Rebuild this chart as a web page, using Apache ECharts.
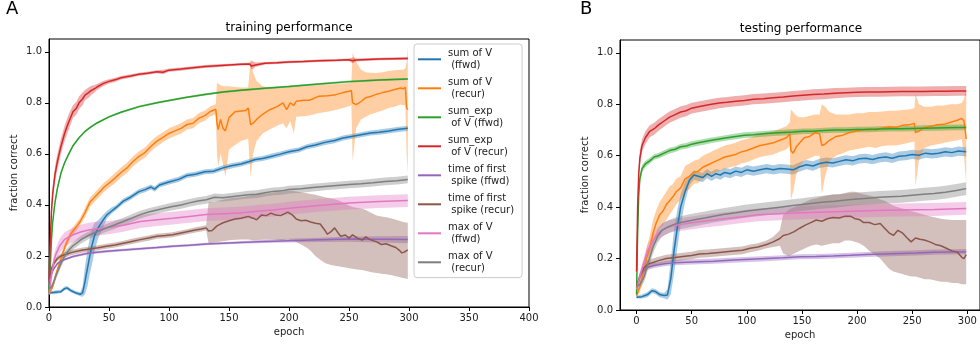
<!DOCTYPE html>
<html>
<head>
<meta charset="utf-8">
<script src="https://cdn.jsdelivr.net/npm/echarts@6/dist/echarts.min.js"></script>
<style>
  html, body { margin: 0; padding: 0; background: #fff; }
  #chart { width: 980px; height: 349px; }
</style>
</head>
<body>
<div id="chart"></div>
<script>
// legend labels / colours (matplotlib tab10)
const runNames = ['sum of V\n (ffwd)', 'sum of V\n (recur)', 'sum_exp\n of V (ffwd)', 'sum_exp\n of V (recur)',
  'time of first\n spike (ffwd)', 'time of first\n spike (recur)', 'max of V\n (ffwd)', 'max of V\n (recur)'];
const runColors = ['#1f77b4', '#ff7f0e', '#2ca02c', '#d62728', '#9467bd', '#8c564b', '#e377c2', '#7f7f7f'];

const trainEpochTicks = [0, 50, 100, 150, 200, 250, 300, 350, 400];
const testEpochTicks = [0, 50, 100, 150, 200, 250, 300];
const fractionTicks = [0, 0.2, 0.4, 0.6, 0.8, 1.0];

// rows: [epoch, mean, lower, upper]
// ---- training ----
const trSumVFfwd = [[0,.055,.05,.06],[5,.058,.05,.065],[10,.06,.055,.068],[13,.072,.065,.08],[15,.075,.068,.082],[18,.065,.058,.072],[22,.056,.05,.063],[26,.05,.042,.058],[28,.055,.04,.08],[30,.1,.05,.16],[32,.15,.08,.22],[34,.2,.13,.27],[36,.245,.17,.31],[38,.28,.22,.33],[41,.31,.27,.34],[45,.34,.31,.36],[48,.36,.345,.375],[52,.375,.365,.39],[56,.39,.38,.4],[62,.415,.405,.425],[68,.43,.42,.44],[75,.452,.442,.462],[80,.46,.45,.47],[85,.47,.46,.48],[88,.462,.452,.472],[92,.478,.468,.488],[100,.49,.48,.5],[108,.5,.49,.51],[115,.515,.505,.525],[122,.52,.51,.53],[130,.53,.52,.54],[137,.532,.522,.542],[145,.545,.535,.555],[152,.553,.543,.563],[160,.56,.55,.57],[167,.57,.56,.58],[172,.578,.568,.588],[178,.582,.572,.592],[185,.59,.58,.6],[192,.598,.588,.608],[200,.608,.598,.618],[208,.615,.605,.625],[215,.628,.618,.638],[222,.635,.625,.645],[230,.645,.635,.655],[238,.652,.642,.662],[245,.662,.652,.672],[252,.668,.658,.678],[260,.675,.665,.685],[268,.682,.672,.692],[275,.685,.675,.695],[283,.69,.68,.7],[290,.695,.685,.705],[299,.7,.69,.71]];
const trSumVRecur = [[0,.05,.045,.055],[3,.08,.07,.09],[6,.13,.12,.14],[10,.19,.175,.205],[14,.245,.23,.26],[18,.285,.27,.3],[22,.31,.295,.325],[26,.335,.32,.35],[30,.37,.352,.388],[34,.41,.392,.428],[38,.43,.412,.448],[42,.45,.432,.468],[46,.47,.452,.488],[50,.485,.467,.503],[55,.505,.485,.525],[60,.527,.507,.547],[65,.545,.525,.565],[70,.57,.55,.59],[75,.59,.57,.61],[80,.605,.585,.625],[85,.63,.61,.65],[90,.65,.63,.67],[95,.665,.645,.685],[100,.68,.66,.7],[105,.69,.67,.71],[110,.7,.68,.72],[115,.715,.695,.735],[120,.72,.7,.74],[125,.74,.72,.76],[130,.75,.73,.77],[134,.765,.745,.785],[139,.775,.755,.795],[140,.72,.6,.88],[141,.695,.55,.875],[143,.735,.6,.87],[145,.7,.56,.865],[147,.69,.51,.865],[150,.742,.617,.865],[155,.765,.635,.862],[160,.768,.65,.86],[164,.77,.656,.86],[166,.78,.66,.86],[168,.714,.506,.97],[170,.72,.6,.92],[173,.735,.65,.885],[178,.755,.68,.865],[184,.773,.695,.86],[190,.785,.71,.86],[195,.8,.72,.86],[198,.773,.7,.86],[201,.8,.73,.862],[204,.79,.68,.862],[206,.806,.745,.864],[212,.81,.747,.865],[217,.81,.75,.867],[225,.826,.76,.87],[232,.828,.765,.872],[239,.832,.772,.874],[245,.84,.78,.876],[250,.845,.787,.878],[252,.848,.79,.88],[253,.8,.571,.996],[256,.793,.7,.96],[260,.805,.735,.93],[264,.82,.745,.92],[268,.825,.755,.918],[272,.832,.761,.917],[278,.84,.77,.92],[283,.845,.78,.925],[288,.852,.785,.928],[293,.858,.793,.93],[295,.855,.79,.93],[297,.86,.79,.935],[298,.78,.6,.96],[299,.773,.525,1.02]];
const trSumExpFfwd = [[0,.06,.055,.065],[1,.15,.13,.17],[2,.26,.24,.28],[3,.33,.315,.345],[5,.41,.4,.42],[7,.465,.455,.475],[10,.525,.517,.533],[13,.565,.558,.572],[16,.595,.589,.601],[20,.632,.627,.637],[25,.663,.659,.667],[30,.688,.684,.692],[35,.706,.702,.71],[40,.721,.717,.725],[50,.745,.741,.749],[60,.763,.759,.767],[75,.785,.781,.789],[90,.8,.796,.804],[100,.809,.805,.813],[115,.822,.818,.826],[130,.833,.829,.837],[145,.842,.838,.846],[160,.849,.845,.853],[180,.857,.853,.861],[200,.864,.86,.868],[225,.874,.87,.878],[250,.883,.879,.887],[275,.889,.885,.893],[299,.893,.889,.897]];
const trSumExpRecur = [[0,.1,.09,.11],[1,.25,.22,.28],[2,.37,.34,.4],[3,.44,.41,.47],[5,.52,.49,.55],[7,.57,.54,.6],[10,.63,.6,.66],[13,.68,.65,.71],[16,.72,.69,.75],[20,.765,.74,.79],[23,.78,.755,.805],[25,.8,.775,.825],[28,.815,.79,.84],[30,.83,.81,.85],[33,.84,.82,.86],[35,.848,.83,.866],[38,.855,.84,.87],[40,.862,.85,.874],[45,.875,.865,.885],[50,.884,.876,.892],[55,.89,.882,.898],[60,.898,.891,.905],[68,.905,.898,.912],[75,.912,.906,.918],[82,.916,.91,.922],[90,.922,.916,.928],[95,.92,.912,.93],[100,.928,.922,.934],[110,.932,.926,.938],[120,.937,.931,.943],[130,.942,.936,.948],[140,.945,.939,.951],[150,.948,.943,.953],[160,.951,.946,.956],[167,.952,.947,.957],[169,.944,.93,.965],[172,.948,.94,.958],[180,.955,.95,.96],[190,.957,.952,.962],[200,.96,.955,.965],[212,.962,.957,.967],[225,.965,.96,.97],[240,.967,.962,.972],[250,.969,.964,.974],[253,.965,.955,.978],[256,.968,.962,.974],[275,.972,.967,.977],[299,.974,.969,.979]];
const trTfsFfwd = [[0,.1,.095,.105],[2,.13,.125,.135],[4,.15,.145,.155],[7,.17,.165,.175],[10,.18,.175,.185],[13,.186,.181,.191],[20,.198,.193,.203],[34,.212,.207,.217],[48,.218,.213,.223],[62,.223,.218,.228],[76,.228,.223,.233],[90,.233,.228,.238],[103,.238,.233,.243],[117,.242,.237,.247],[131,.247,.242,.252],[145,.25,.245,.255],[159,.253,.248,.258],[180,.257,.251,.263],[200,.26,.253,.267],[225,.263,.255,.271],[250,.266,.256,.276],[275,.265,.253,.277],[299,.264,.25,.278]];
const trTfsRecur = [[0,.11,.1,.12],[2,.15,.14,.16],[4,.17,.16,.18],[7,.19,.18,.2],[10,.2,.19,.21],[13,.205,.195,.215],[20,.215,.205,.225],[27,.222,.212,.232],[34,.227,.217,.237],[41,.232,.222,.242],[48,.238,.228,.248],[55,.243,.233,.253],[62,.25,.24,.26],[69,.257,.247,.267],[76,.264,.254,.274],[83,.27,.26,.28],[90,.277,.267,.287],[97,.28,.27,.29],[103,.283,.273,.293],[110,.29,.28,.3],[117,.297,.287,.307],[122,.302,.292,.312],[127,.306,.296,.316],[131,.31,.3,.32],[133,.298,.25,.41],[136,.3,.252,.412],[140,.318,.255,.415],[145,.33,.258,.42],[150,.338,.262,.425],[155,.345,.263,.428],[160,.348,.264,.43],[166,.355,.264,.435],[170,.348,.262,.44],[173,.342,.262,.442],[177,.36,.263,.444],[181,.358,.264,.445],[185,.368,.264,.447],[189,.36,.263,.45],[193,.358,.262,.452],[199,.372,.265,.455],[203,.36,.26,.455],[206,.345,.255,.453],[210,.338,.245,.45],[214,.34,.235,.447],[218,.333,.22,.443],[222,.328,.2,.44],[226,.325,.185,.435],[230,.3,.172,.43],[232,.285,.168,.428],[235,.295,.165,.425],[238,.31,.162,.422],[241,.29,.16,.418],[243,.277,.158,.414],[247,.282,.155,.405],[250,.27,.152,.398],[253,.283,.15,.392],[257,.27,.147,.388],[261,.262,.145,.385],[264,.275,.142,.38],[267,.265,.138,.372],[270,.26,.135,.365],[273,.255,.133,.358],[277,.245,.13,.355],[281,.248,.128,.352],[285,.24,.125,.348],[289,.233,.12,.342],[292,.222,.118,.338],[294,.212,.115,.335],[296,.215,.113,.332],[299,.224,.11,.33]];
const trMaxFfwd = [[0,.05,.045,.055],[2,.12,.1,.14],[4,.18,.155,.205],[6,.21,.185,.235],[9,.24,.212,.268],[13,.265,.237,.293],[20,.283,.255,.311],[27,.295,.267,.323],[34,.303,.275,.331],[48,.31,.284,.336],[62,.32,.295,.345],[76,.335,.31,.36],[90,.342,.317,.367],[103,.348,.323,.373],[117,.355,.33,.38],[131,.362,.337,.387],[145,.365,.34,.39],[159,.368,.343,.393],[173,.375,.35,.4],[187,.38,.355,.405],[200,.387,.362,.412],[225,.398,.373,.423],[250,.407,.382,.432],[275,.413,.388,.438],[299,.417,.392,.442]];
const trMaxRecur = [[0,.07,.06,.08],[3,.085,.072,.098],[6,.125,.11,.14],[9,.16,.145,.175],[13,.2,.185,.215],[16,.22,.205,.235],[20,.24,.225,.255],[27,.265,.25,.28],[34,.283,.268,.298],[41,.297,.282,.312],[48,.31,.295,.325],[55,.322,.307,.337],[62,.335,.32,.35],[69,.348,.333,.363],[76,.362,.347,.377],[83,.372,.357,.387],[90,.38,.365,.395],[97,.388,.373,.403],[103,.394,.379,.409],[110,.4,.385,.415],[117,.408,.393,.423],[124,.415,.4,.43],[131,.42,.405,.435],[138,.43,.415,.445],[145,.428,.413,.443],[152,.432,.417,.447],[159,.436,.421,.451],[166,.44,.425,.455],[173,.442,.427,.457],[180,.448,.433,.463],[187,.453,.438,.468],[194,.455,.44,.47],[200,.46,.445,.475],[210,.463,.448,.478],[220,.468,.453,.483],[230,.472,.457,.487],[240,.476,.461,.491],[250,.48,.465,.495],[260,.483,.468,.498],[270,.487,.472,.502],[280,.492,.477,.507],[290,.495,.48,.51],[299,.5,.485,.515]];

// ---- testing ----
const teSumVFfwd = [[0,.05,.045,.055],[5,.052,.045,.06],[10,.06,.05,.07],[14,.075,.065,.085],[17,.072,.062,.082],[21,.06,.05,.07],[25,.056,.046,.066],[28,.058,.04,.08],[31,.12,.06,.19],[34,.23,.14,.31],[37,.32,.24,.39],[40,.4,.33,.45],[44,.46,.42,.5],[48,.505,.485,.525],[52,.525,.507,.543],[56,.52,.502,.538],[60,.515,.497,.533],[64,.53,.512,.548],[68,.52,.502,.538],[72,.53,.512,.548],[76,.525,.507,.543],[80,.535,.517,.553],[85,.53,.512,.548],[90,.54,.522,.558],[95,.535,.517,.553],[100,.545,.527,.563],[106,.54,.522,.558],[112,.545,.527,.563],[118,.55,.532,.568],[124,.545,.527,.563],[130,.55,.532,.568],[136,.548,.53,.566],[142,.545,.527,.563],[148,.557,.539,.575],[154,.565,.547,.583],[160,.56,.542,.578],[166,.57,.552,.588],[172,.575,.557,.593],[178,.572,.554,.59],[184,.578,.56,.596],[190,.584,.566,.602],[196,.58,.562,.598],[202,.588,.57,.606],[208,.59,.572,.608],[214,.585,.567,.603],[220,.592,.574,.61],[226,.595,.577,.613],[232,.59,.572,.608],[238,.598,.58,.616],[244,.6,.582,.618],[250,.605,.587,.623],[256,.602,.584,.62],[262,.61,.592,.628],[268,.607,.589,.625],[274,.61,.592,.628],[280,.615,.597,.633],[286,.612,.594,.63],[292,.618,.6,.636],[299,.615,.597,.633]];
const teSumVRecur = [[0,.055,.045,.065],[3,.09,.07,.11],[6,.14,.11,.17],[9,.2,.16,.24],[12,.24,.2,.29],[15,.3,.25,.35],[18,.34,.29,.39],[21,.37,.32,.42],[24,.385,.33,.44],[27,.41,.35,.46],[30,.425,.37,.48],[33,.44,.39,.49],[36,.46,.41,.51],[40,.475,.43,.52],[44,.51,.46,.56],[48,.52,.47,.57],[52,.535,.49,.58],[56,.54,.495,.585],[60,.555,.51,.6],[65,.565,.52,.61],[70,.575,.53,.62],[75,.585,.54,.63],[80,.595,.55,.64],[85,.6,.555,.645],[90,.605,.56,.65],[95,.615,.57,.66],[100,.62,.575,.665],[106,.63,.585,.675],[112,.64,.595,.685],[118,.645,.6,.69],[124,.65,.605,.695],[130,.66,.615,.705],[136,.67,.625,.715],[139,.685,.64,.73],[140,.62,.43,.78],[142,.61,.46,.77],[145,.635,.53,.755],[148,.65,.56,.75],[152,.67,.58,.75],[157,.675,.59,.755],[162,.69,.6,.76],[166,.685,.6,.76],[168,.64,.45,.8],[171,.645,.52,.79],[175,.66,.58,.77],[181,.675,.6,.76],[187,.68,.61,.76],[193,.69,.62,.76],[199,.695,.625,.765],[205,.7,.63,.765],[211,.705,.635,.77],[217,.7,.63,.77],[223,.708,.638,.772],[229,.712,.64,.775],[235,.71,.64,.775],[241,.718,.645,.778],[247,.72,.65,.78],[252,.725,.655,.785],[253,.69,.48,.84],[256,.695,.58,.8],[261,.71,.63,.79],[267,.715,.64,.79],[273,.72,.645,.795],[279,.722,.65,.795],[285,.73,.655,.8],[291,.738,.66,.8],[295,.745,.665,.805],[297,.735,.6,.82],[299,.665,.49,.86]];
const teSumExpFfwd = [[0,.06,.05,.07],[1,.3,.26,.34],[2,.45,.42,.48],[3,.51,.49,.53],[5,.55,.535,.565],[8,.568,.556,.58],[12,.58,.569,.591],[16,.595,.584,.606],[20,.6,.589,.611],[25,.61,.599,.621],[30,.62,.609,.631],[35,.625,.614,.636],[40,.635,.624,.646],[45,.638,.627,.649],[50,.645,.634,.656],[56,.65,.639,.661],[62,.655,.644,.666],[68,.66,.649,.671],[75,.665,.654,.676],[82,.67,.659,.681],[90,.675,.664,.686],[98,.68,.669,.691],[106,.682,.671,.693],[115,.685,.674,.696],[124,.688,.677,.699],[133,.69,.679,.701],[142,.692,.681,.703],[151,.695,.684,.706],[160,.695,.684,.706],[170,.698,.687,.709],[180,.7,.689,.711],[190,.7,.689,.711],[200,.702,.691,.713],[210,.702,.691,.713],[220,.704,.693,.715],[230,.705,.694,.716],[240,.705,.694,.716],[250,.706,.695,.717],[260,.707,.696,.718],[270,.708,.697,.719],[280,.709,.698,.72],[290,.71,.699,.721],[299,.71,.699,.721]];
const teSumExpRecur = [[0,.15,.14,.16],[1,.4,.36,.44],[2,.53,.5,.56],[3,.59,.56,.62],[5,.64,.615,.665],[8,.67,.645,.695],[12,.695,.672,.718],[16,.705,.682,.728],[20,.72,.697,.743],[25,.735,.713,.757],[30,.75,.728,.772],[35,.76,.738,.782],[40,.77,.748,.792],[45,.775,.753,.797],[50,.785,.764,.806],[56,.79,.769,.811],[62,.795,.774,.816],[68,.8,.779,.821],[75,.805,.785,.825],[82,.808,.788,.828],[90,.812,.792,.832],[98,.815,.795,.835],[106,.82,.8,.84],[115,.822,.802,.842],[124,.825,.805,.845],[133,.828,.808,.848],[142,.832,.812,.852],[151,.835,.815,.855],[160,.838,.818,.858],[170,.84,.82,.86],[180,.843,.823,.863],[190,.845,.826,.864],[200,.847,.828,.866],[210,.848,.829,.867],[220,.848,.829,.867],[230,.849,.83,.868],[240,.85,.831,.869],[250,.85,.831,.869],[260,.85,.831,.869],[270,.851,.832,.87],[280,.851,.832,.87],[290,.852,.833,.871],[299,.852,.833,.871]];
const teTfsFfwd = [[0,.085,.075,.095],[3,.13,.12,.14],[6,.152,.142,.162],[10,.165,.155,.175],[15,.172,.162,.182],[20,.176,.166,.186],[27,.181,.171,.191],[35,.184,.174,.194],[45,.186,.176,.196],[57,.188,.178,.198],[70,.19,.18,.2],[88,.194,.184,.204],[103,.197,.187,.207],[118,.2,.19,.21],[133,.203,.193,.213],[148,.207,.197,.217],[163,.208,.198,.218],[178,.21,.2,.22],[194,.213,.203,.223],[209,.216,.206,.226],[224,.218,.208,.228],[239,.22,.21,.23],[254,.222,.212,.232],[269,.225,.215,.235],[284,.226,.216,.236],[299,.227,.217,.237]];
const teTfsRecur = [[0,.09,.08,.1],[3,.13,.115,.145],[6,.16,.145,.175],[10,.178,.163,.193],[15,.185,.17,.2],[20,.192,.177,.207],[27,.2,.185,.215],[35,.204,.189,.219],[42,.208,.193,.223],[50,.212,.197,.227],[57,.218,.203,.233],[65,.22,.205,.235],[75,.224,.209,.239],[88,.229,.214,.244],[96,.232,.217,.247],[103,.24,.225,.255],[110,.245,.23,.26],[118,.255,.24,.27],[124,.265,.245,.285],[130,.278,.25,.31],[133,.29,.22,.37],[138,.295,.21,.39],[143,.305,.22,.4],[148,.318,.23,.41],[153,.33,.24,.42],[158,.34,.25,.43],[163,.35,.255,.435],[168,.345,.25,.44],[173,.355,.255,.445],[178,.36,.26,.45],[184,.358,.26,.45],[189,.365,.27,.455],[194,.365,.27,.46],[198,.355,.265,.46],[202,.352,.26,.455],[206,.34,.25,.45],[211,.34,.23,.445],[216,.332,.215,.44],[221,.336,.2,.43],[225,.318,.18,.425],[229,.3,.16,.415],[233,.29,.15,.405],[237,.31,.145,.4],[241,.3,.14,.395],[245,.282,.135,.39],[249,.265,.13,.385],[253,.28,.13,.38],[257,.275,.125,.375],[261,.272,.12,.37],[266,.265,.12,.365],[271,.255,.115,.36],[276,.25,.11,.355],[281,.24,.11,.352],[286,.23,.105,.35],[291,.225,.105,.35],[295,.205,.1,.35],[297,.2,.1,.35],[299,.215,.1,.35]];
const teMaxFfwd = [[0,.08,.065,.095],[3,.13,.11,.15],[6,.175,.155,.195],[10,.23,.205,.255],[15,.27,.245,.295],[20,.3,.275,.325],[25,.315,.29,.34],[30,.325,.3,.35],[36,.33,.305,.355],[44,.335,.31,.36],[52,.34,.315,.365],[60,.345,.32,.37],[70,.35,.325,.375],[80,.355,.33,.38],[90,.36,.335,.385],[100,.365,.34,.39],[110,.37,.345,.395],[120,.372,.347,.397],[130,.374,.349,.399],[140,.376,.351,.401],[150,.378,.353,.403],[165,.38,.355,.405],[180,.382,.357,.407],[195,.384,.359,.409],[210,.386,.361,.411],[225,.388,.363,.413],[240,.389,.364,.414],[255,.39,.365,.415],[270,.391,.366,.416],[285,.393,.368,.418],[299,.395,.37,.42]];
const teMaxRecur = [[0,.09,.075,.105],[3,.1,.085,.115],[7,.13,.11,.15],[11,.19,.165,.215],[15,.245,.22,.27],[19,.285,.26,.31],[23,.31,.285,.335],[28,.322,.297,.347],[34,.333,.308,.358],[40,.34,.315,.365],[47,.346,.321,.371],[54,.352,.327,.377],[62,.358,.333,.383],[70,.365,.34,.39],[80,.372,.347,.397],[90,.378,.353,.403],[100,.385,.36,.41],[110,.39,.365,.415],[120,.395,.37,.42],[130,.4,.375,.425],[140,.405,.38,.43],[150,.41,.385,.435],[160,.415,.39,.44],[170,.42,.395,.445],[180,.423,.398,.448],[190,.428,.403,.453],[200,.432,.407,.457],[210,.435,.41,.46],[220,.438,.413,.463],[230,.44,.415,.465],[240,.442,.417,.467],[250,.446,.421,.471],[260,.45,.425,.475],[270,.453,.428,.478],[280,.458,.433,.483],[290,.465,.44,.49],[299,.472,.447,.497]];

const trainRuns = [trSumVFfwd, trSumVRecur, trSumExpFfwd, trSumExpRecur, trTfsFfwd, trTfsRecur, trMaxFfwd, trMaxRecur];
const testRuns = [teSumVFfwd, teSumVRecur, teSumExpFfwd, teSumExpRecur, teTfsFfwd, teTfsRecur, teMaxFfwd, teMaxRecur];

const FONT = 'DejaVu Sans';
const INK = '#222';

// shaded spread: one polygon through upper then lower edge
function bandSeries(rows, color, gi) {
  return {
    type: 'custom',
    xAxisIndex: gi,
    yAxisIndex: gi,
    z: 1,
    silent: true,
    clip: true,
    data: rows,
    encode: { x: 0, y: [2, 3] },
    renderItem: (params, api) => {
      if (params.dataIndex !== 0) return null;
      const upper = rows.map((r) => api.coord([r[0], r[3]]));
      const lower = rows.map((r) => api.coord([r[0], r[2]])).reverse();
      return {
        type: 'polygon',
        shape: { points: upper.concat(lower) },
        style: { fill: color, opacity: 0.38 },
      };
    },
  };
}

function lineSeries(rows, i, gi) {
  return {
    name: runNames[i],
    type: 'line',
    xAxisIndex: gi,
    yAxisIndex: gi,
    z: 2,
    data: rows,
    encode: { x: 0, y: 1 },
    showSymbol: false,
    silent: true,
    color: runColors[i],
    lineStyle: { width: 1.5, color: runColors[i] },
  };
}

const series = [];
[trainRuns, testRuns].forEach((runs, gi) => {
  runs.forEach((rows, i) => series.push(bandSeries(rows, runColors[i], gi)));
  runs.forEach((rows, i) => series.push(lineSeries(rows, i, gi)));
});

function xAxisFor(gi, min, max, ticks) {
  return {
    type: 'value',
    gridIndex: gi,
    min: min,
    max: max,
    name: 'epoch',
    nameLocation: 'middle',
    nameGap: 20,
    nameTextStyle: { fontFamily: FONT, fontSize: 10, color: INK },
    axisLine: { show: true, onZero: false, lineStyle: { color: '#000', width: 1 } },
    axisTick: { show: true, length: 4, customValues: ticks, lineStyle: { color: '#000' } },
    axisLabel: { customValues: ticks, fontFamily: FONT, fontSize: 10, color: INK, margin: 6 },
    splitLine: { show: false },
  };
}

function yAxisFor(gi, gap) {
  return {
    type: 'value',
    gridIndex: gi,
    min: 0,
    max: 1.05,
    name: 'fraction correct',
    nameLocation: 'middle',
    nameGap: gap,
    nameRotate: 90,
    nameTextStyle: { fontFamily: FONT, fontSize: 10, color: INK },
    axisLine: { show: true, onZero: false, lineStyle: { color: '#000', width: 1 } },
    axisTick: { show: true, length: 4, customValues: fractionTicks, lineStyle: { color: '#000' } },
    axisLabel: {
      customValues: fractionTicks,
      formatter: (v) => v.toFixed(1),
      fontFamily: FONT, fontSize: 10, color: INK, margin: 7,
    },
    splitLine: { show: false },
  };
}

const chart = echarts.init(document.getElementById('chart'), null, { renderer: 'canvas' });

chart.setOption({
  animation: false,
  backgroundColor: '#fff',
  grid: [
    { left: 49, top: 39, width: 480, height: 268, show: true, borderColor: '#000', borderWidth: 1 },
    { left: 620, top: 40, width: 360, height: 270, show: true, borderColor: '#000', borderWidth: 1 },
  ],
  xAxis: [xAxisFor(0, 0, 400, trainEpochTicks), xAxisFor(1, -15, 311.5, testEpochTicks)],
  yAxis: [yAxisFor(0, 30), yAxisFor(1, 30)],
  legend: {
    data: runNames,
    orient: 'vertical',
    left: 414,
    top: 44,
    padding: [3, 8, 3, 4],
    itemGap: 4.4,
    itemWidth: 23,
    itemHeight: 2,
    icon: 'rect',
    backgroundColor: 'rgba(255,255,255,0.85)',
    borderColor: '#cccccc',
    borderWidth: 1,
    borderRadius: 3,
    selectedMode: false,
    textStyle: { fontFamily: FONT, fontSize: 10, lineHeight: 12.3, color: INK, padding: [0, 0, 0, 2] },
  },
  graphic: [
    { type: 'text', x: 289, y: 28, style: { text: 'training performance', font: '12px "DejaVu Sans"', fill: '#000', textAlign: 'center', textVerticalAlign: 'middle' } },
    { type: 'text', x: 801, y: 29, style: { text: 'testing performance', font: '12px "DejaVu Sans"', fill: '#000', textAlign: 'center', textVerticalAlign: 'middle' } },
    { type: 'text', x: 6, y: 9, style: { text: 'A', font: '18px "DejaVu Sans"', fill: '#000', textAlign: 'left', textVerticalAlign: 'middle' } },
    { type: 'text', x: 580, y: 9, style: { text: 'B', font: '18px "DejaVu Sans"', fill: '#000', textAlign: 'left', textVerticalAlign: 'middle' } },
  ],
  series: series,
});
</script>
</body>
</html>
